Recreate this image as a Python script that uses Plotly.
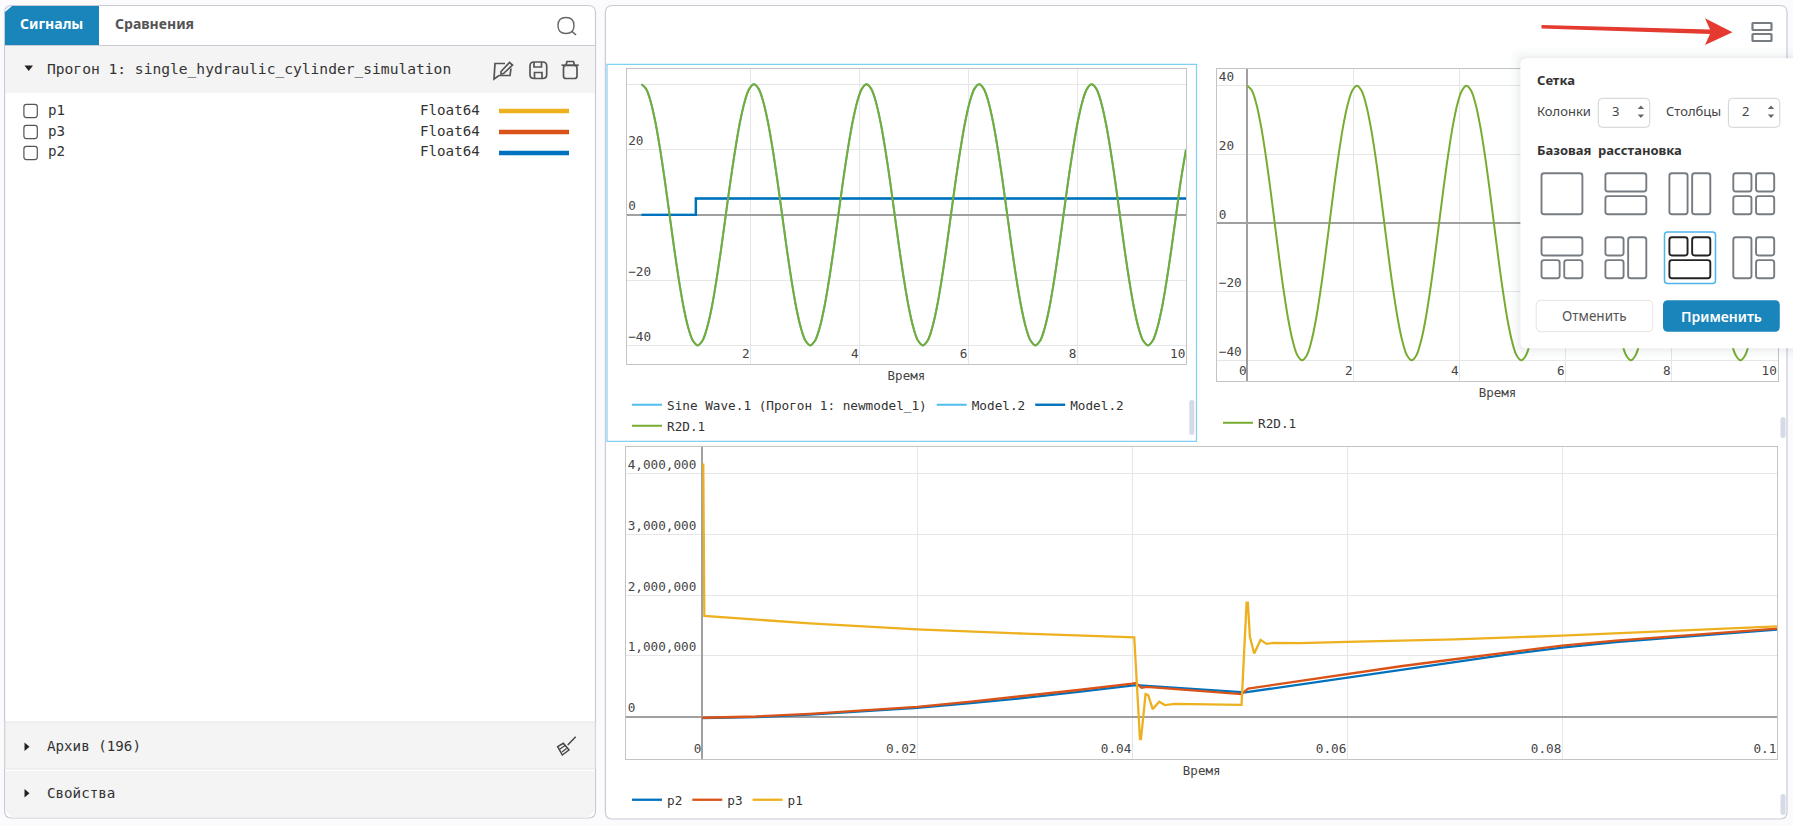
import plotly.graph_objects as go

WIDTH = 1793
HEIGHT = 826
MONO = "DejaVu Sans Mono"
SANS = "Noto Sans"

BLUE = "#0072bd"
ORANGE = "#d95319"
YELLOW = "#edb120"
LIGHT_BLUE = "#4dbeee"
GREEN = "#77ac30"
TAB_BLUE = "#1a85bb"
BORDER = "#c9cad8"
ICON = "#777c82"

# signals
sine_time = [
    0, 0.086, 0.172, 0.258, 0.345, 0.431, 0.517, 0.603, 0.689, 0.775, 0.861, 0.947,
    1.034, 1.12, 1.206, 1.292, 1.378, 1.464, 1.55, 1.636, 1.723, 1.809, 1.895, 1.981,
    2.067, 2.153, 2.239, 2.325, 2.412, 2.498, 2.584, 2.67, 2.756, 2.842, 2.928, 3.014,
    3.101, 3.187, 3.273, 3.359, 3.445, 3.531, 3.617, 3.703, 3.79, 3.876, 3.962, 4.048,
    4.134, 4.22, 4.306, 4.392, 4.479, 4.565, 4.651, 4.737, 4.823, 4.909, 4.995, 5.081,
    5.168, 5.254, 5.34, 5.426, 5.512, 5.598, 5.684, 5.77, 5.857, 5.943, 6.029, 6.115,
    6.201, 6.287, 6.373, 6.459, 6.546, 6.632, 6.718, 6.804, 6.89, 6.976, 7.062, 7.148,
    7.235, 7.321, 7.407, 7.493, 7.579, 7.665, 7.751, 7.837, 7.924, 8.01, 8.096, 8.182,
    8.268, 8.354, 8.44, 8.526, 8.613, 8.699, 8.785, 8.871, 8.957, 9.043, 9.129, 9.215,
    9.302, 9.388, 9.474, 9.56, 9.646, 9.732, 9.818, 9.904, 10,
]
sine_values = [
    40, 38.6, 34.6, 28.3, 20, 10.4, 0, -10.4, -20, -28.3, -34.6, -38.6,
    -40, -38.6, -34.6, -28.3, -20, -10.4, 0, 10.4, 20, 28.3, 34.6, 38.6,
    40, 38.6, 34.6, 28.3, 20, 10.4, 0, -10.4, -20, -28.3, -34.6, -38.6,
    -40, -38.6, -34.6, -28.3, -20, -10.4, 0, 10.4, 20, 28.3, 34.6, 38.6,
    40, 38.6, 34.6, 28.3, 20, 10.4, 0, -10.4, -20, -28.3, -34.6, -38.6,
    -40, -38.6, -34.6, -28.3, -20, -10.4, 0, 10.4, 20, 28.3, 34.6, 38.6,
    40, 38.6, 34.6, 28.3, 20, 10.4, 0, -10.4, -20, -28.3, -34.6, -38.6,
    -40, -38.6, -34.6, -28.3, -20, -10.4, 0, 10.4, 20, 28.3, 34.6, 38.6,
    40, 38.6, 34.6, 28.3, 20, 10.4, 0, -10.4, -20, -28.3, -34.6, -38.6,
    -40, -38.6, -34.6, -28.3, -20, -10.4, 0, 10.4, 20,
]
step_time = [0, 1, 1, 10]
step_values = [0, 0, 5, 5]

# pressures
p1_time = [
    0.0001, 0.0002, 0.01, 0.02, 0.03, 0.0402, 0.04073, 0.04082, 0.04104, 0.04125, 0.0415, 0.04191,
    0.04252, 0.04305, 0.04398, 0.05018, 0.05065, 0.05077, 0.05096, 0.05136, 0.05195, 0.05251,
    0.05313, 0.05561, 0.06, 0.07, 0.08, 0.09, 0.1,
]
p1_values = [
    4160000, 1656000, 1535000, 1437000, 1366000, 1306000, -366000, -366000, 0, 372000, 355000, 126000,
    246000, 192000, 213000, 197000, 1875000, 1875000, 1311000, 1040000, 1263000, 1197000,
    1213000, 1210000, 1230000, 1270000, 1333000, 1410000, 1486000,
]
p2_time = [
    0, 0.005, 0.01, 0.015, 0.02, 0.025, 0.03, 0.035, 0.04, 0.04035, 0.0505, 0.05561,
    0.06, 0.065, 0.07, 0.075, 0.08, 0.085, 0.09, 0.095, 0.1,
]
p2_values = [
    -22000, -5000, 35000, 85000, 145000, 225000, 310000, 410000, 515000, 520000, 400000, 531000,
    650000, 780000, 900000, 1025000, 1137000, 1225000, 1295000, 1365000, 1432000,
]
p3_time = [
    0, 0.005, 0.01, 0.015, 0.02, 0.025, 0.03, 0.035, 0.04, 0.04035, 0.04088, 0.04135,
    0.05018, 0.0508, 0.05127, 0.05561, 0.06, 0.065, 0.07, 0.075, 0.08, 0.085, 0.09, 0.095, 0.1,
]
p3_values = [
    -16000, 5000, 48000, 100000, 164000, 250000, 340000, 440000, 546000, 557000, 476000, 492000,
    372000, 465000, 476000, 590000, 710000, 830000, 945000, 1060000, 1170000, 1250000, 1320000, 1385000, 1448000,
]

upper_left_ticks = [2, 4, 6, 8, 10]
upper_right_ticks = [0, 2, 4, 6, 8, 10]
sine_y_ticks = [-40, -20, 0, 20, 40]
lower_x_ticks = [0, 0.02, 0.04, 0.06, 0.08, 0.1]
lower_x_labels = ["0", "0.02", "0.04", "0.06", "0.08", "0.1"]
lower_y_ticks = [0, 1000000, 2000000, 3000000, 4000000]

signal_rows = ["p1", "p3", "p2"]
signal_colors = [YELLOW, ORANGE, BLUE]


def px_x(x):
    return x / WIDTH


def px_y(y):
    return 1 - y / HEIGHT


def path_from(points, close=True):
    """Build an SVG path in paper coordinates from pixel points."""
    parts = [f"{'M' if i == 0 else 'L'} {px_x(x)} {px_y(y)}" for i, (x, y) in enumerate(points)]
    return " ".join(parts) + (" Z" if close else "")


def round_rect(x0, y0, x1, y1, r):
    """Rounded rectangle path in paper coordinates."""
    p = lambda x, y: f"{px_x(x)} {px_y(y)}"
    return (
        f"M {p(x0 + r, y0)} L {p(x1 - r, y0)} Q {p(x1, y0)} {p(x1, y0 + r)} "
        f"L {p(x1, y1 - r)} Q {p(x1, y1)} {p(x1 - r, y1)} "
        f"L {p(x0 + r, y1)} Q {p(x0, y1)} {p(x0, y1 - r)} "
        f"L {p(x0, y0 + r)} Q {p(x0, y0)} {p(x0 + r, y0)} Z"
    )


shapes = []
annotations = []


def add_box(x0, y0, x1, y1, r=0, fill="rgba(0,0,0,0)", line=None, width=1, layer="below"):
    shapes.append(dict(
        type="path", path=round_rect(x0, y0, x1, y1, r), xref="paper", yref="paper",
        fillcolor=fill, line=dict(color=line or "rgba(0,0,0,0)", width=width if line else 0), layer=layer,
    ))


def add_poly(points, fill="rgba(0,0,0,0)", line=None, width=1, close=True, layer="below"):
    shapes.append(dict(
        type="path", path=path_from(points, close), xref="paper", yref="paper",
        fillcolor=fill, line=dict(color=line or "rgba(0,0,0,0)", width=width if line else 0), layer=layer,
    ))


def add_text(x, y, text, size=14.6, color="#333333", family=MONO, weight=400, anchor="left"):
    annotations.append(dict(
        x=px_x(x), y=px_y(y), xref="paper", yref="paper", text=text, showarrow=False,
        xanchor=anchor, yanchor="middle", borderpad=0,
        font=dict(family=family, size=size, color=color, weight=weight),
    ))


def draw_left_panel():
    add_box(4.6, 5.5, 595.5, 818, r=7, fill="white", line=BORDER, width=1.2)
    # tabs
    add_poly([(5, 12), (12, 6), (99, 6), (99, 45), (5, 45)], fill=TAB_BLUE)
    add_poly([(5, 45.5), (595, 45.5)], line="#c8ccd4", width=1.2, close=False)
    add_text(51.7, 24, "Сигналы", size=14, color="white", family=SANS, weight=700, anchor="center")
    add_text(113.5, 24, "Сравнения", size=14, color="#555555", family=SANS, weight=700)
    add_box(558, 17.5, 574, 33.5, r=8, line="#666666", width=1.4)
    add_poly([(571.5, 31), (576, 35)], line="#666666", width=1.6, close=False)

    # run header
    add_poly([(5.2, 46), (595, 46), (595, 93), (5.2, 93)], fill="#f4f4f4")
    add_poly([(24.5, 65.5), (33, 65.5), (28.7, 71)], fill="#222222")
    add_text(45.8, 68.5, "Прогон 1: single_hydraulic_cylinder_simulation")
    # edit, save and delete icons
    add_poly([(505, 63.5), (495, 63.5), (494, 79), (499, 75.5), (510, 75.5), (511, 68.5)], line="#555555", width=1.7, close=False)
    add_poly([(501, 71.5), (509.5, 62.5), (512.5, 65), (503.5, 73.5), (501, 74)], line="#555555", width=1.7)
    add_box(530, 62, 546.7, 78.5, r=4, line="#555555", width=1.7)
    add_poly([(534, 62), (534, 67), (541.5, 67), (541.5, 62)], line="#555555", width=1.7, close=False)
    add_poly([(534.5, 78.5), (534.5, 72.5), (542, 72.5), (542, 78.5)], line="#555555", width=1.7, close=False)
    add_poly([(561.5, 65.2), (578.7, 65.2)], line="#555555", width=1.7, close=False)
    add_poly([(566, 65), (567, 61.5), (573.5, 61.5), (574.5, 65)], line="#555555", width=1.7, close=False)
    add_box(563.5, 65.5, 577, 78.5, r=2.5, line="#555555", width=1.7)

    # signal rows
    for row, (name, color) in enumerate(zip(signal_rows, signal_colors)):
        y = 111 + row * 21
        add_box(23.9, y - 6.6, 37.3, y + 6.6, r=2.5, fill="white", line="#555555", width=1.2)
        add_text(47.4, y - 1.5, name, size=14.2)
        add_text(418.6, y - 1.5, "Float64", size=14.2)
        add_box(499, y - 2.3, 569, y + 2.3, fill=color)

    # collapsed sections
    add_poly([(5.2, 722), (595, 722), (595, 769), (5.2, 769)], fill="#f4f4f4", line="#e6e6e6", width=1)
    add_poly([(5.2, 771), (595, 771), (595, 811), (588, 817.5), (12, 817.5), (5.2, 811)], fill="#f4f4f4")
    add_poly([(24.5, 742.5), (29.5, 746.8), (24.5, 751)], fill="#222222")
    add_poly([(24.5, 789), (29.5, 793.3), (24.5, 797.5)], fill="#222222")
    add_text(45.8, 745.5, "Архив (196)", size=14.2)
    add_text(45.8, 792.5, "Свойства", size=14.2)
    # brush icon
    add_poly([(557.7, 746.7), (563.3, 743.3), (569, 750), (562.3, 755)], line="#444444", width=1.5)
    add_poly([(560, 749), (565, 745.5)], line="#444444", width=1.2, close=False)
    add_poly([(562, 752), (566.5, 748.5)], line="#444444", width=1.2, close=False)
    add_poly([(567.7, 745), (575.7, 736.7)], line="#444444", width=1.4, close=False)


def draw_right_panel():
    add_box(605.4, 5.5, 1787, 819, r=7, fill="white", line=BORDER, width=1.2)
    add_poly([(607, 64.3), (1196.5, 64.3), (1196.5, 441.3), (607, 441.3)], line="#7fd0f2", width=1.2)
    add_box(1189.3, 400, 1194.3, 435, r=2.5, fill="#d6dae6")
    add_box(1780.5, 417, 1785.5, 438, r=2.5, fill="#d6dae6")
    add_box(1780.5, 794, 1785.5, 815, r=2.5, fill="#d6dae6")

    # red arrow and the layout button
    add_poly([(1541.5, 25), (1710, 29.5), (1705, 18.3), (1732.5, 32.3), (1705, 45), (1710, 34), (1541.5, 28.5)],
             fill="#e53a2f", layer="above")
    add_box(1752.5, 23, 1771.5, 30, r=0.5, line=ICON, width=2.2, layer="above")
    add_box(1752.5, 34, 1771.5, 41, r=0.5, line=ICON, width=2.2, layer="above")


def draw_popup():
    for grow, alpha in [(10, 0.012), (7, 0.014), (4, 0.018), (2, 0.022)]:
        add_box(1520 - grow, 58 - grow, 1800, 348.5 + grow, r=8, fill=f"rgba(40,50,70,{alpha})", layer="above")
    add_box(1520.4, 58.3, 1800, 348.3, r=7, fill="white", layer="above")

    add_text(1536.2, 79.7, "Сетка", size=13, color="#333333", family=SANS, weight=700)
    add_text(1536.2, 110.7, "Колонки", size=13, color="#444444", family=SANS)
    add_text(1665, 110.7, "Столбцы", size=13, color="#444444", family=SANS)
    add_text(1536.2, 150, "Базовая  расстановка", size=13, color="#333333", family=SANS, weight=700)

    for x0, value in [(1598.3, "3"), (1728.4, "2")]:
        add_box(x0, 98.3, x0 + 51.4, 127.3, r=4, fill="white", line="#cfd2d6", width=1, layer="above")
        add_text(x0 + 12.6, 110.7, value, size=13, color="#444444", family=SANS)
        tip = x0 + 42.6
        add_poly([(tip - 3.2, 109), (tip + 3.2, 109), (tip, 105.5)], fill="#666666", layer="above")
        add_poly([(tip - 3.2, 114.5), (tip + 3.2, 114.5), (tip, 118)], fill="#666666", layer="above")

    cols = [1541.5, 1605.4, 1669.4, 1733.3]
    rows = [173.3, 237.3]
    w, h = 40.9, 41
    gap = 4.6
    half_w = (w - gap) / 2
    half_h = (h - gap) / 2
    # rectangles of each preset as (left, top, width, height) in fractions of halves
    presets = [
        [(0, 0, 2, 2)],
        [(0, 0, 2, 1), (0, 1, 2, 1)],
        [(0, 0, 1, 2), (1, 0, 1, 2)],
        [(0, 0, 1, 1), (1, 0, 1, 1), (0, 1, 1, 1), (1, 1, 1, 1)],
        [(0, 0, 2, 1), (0, 1, 1, 1), (1, 1, 1, 1)],
        [(0, 0, 1, 1), (0, 1, 1, 1), (1, 0, 1, 2)],
        [(0, 0, 1, 1), (1, 0, 1, 1), (0, 1, 2, 1)],
        [(0, 0, 1, 2), (1, 0, 1, 1), (1, 1, 1, 1)],
    ]
    add_box(1664.5, 232, 1715.5, 283.5, r=3, fill="white", line="#4db5ea", width=1.5, layer="above")
    for i, cells in enumerate(presets):
        ox, oy = cols[i % 4], rows[i // 4]
        color = "#222222" if i == 6 else ICON
        for left, top, cw, ch in cells:
            x0 = ox + left * (half_w + gap)
            y0 = oy + top * (half_h + gap)
            x1 = x0 + (w if cw == 2 else half_w)
            y1 = y0 + (h if ch == 2 else half_h)
            add_box(x0, y0, x1, y1, r=2.5, line=color, width=1.9, layer="above")

    add_box(1536.2, 300.3, 1652.7, 331.7, r=5, fill="white", line="#e4e4e4", width=1, layer="above")
    add_text(1594.5, 316, "Отменить", size=13.5, color="#555555", family=SANS, anchor="center")
    add_box(1663, 300.3, 1779.8, 331.7, r=5, fill=TAB_BLUE, layer="above")
    add_text(1721.4, 316, "Применить", size=14, color="white", family=SANS, weight=600, anchor="center")


def axis_style(x0, x1, anchor, tickvals, axis_range, **extra):
    style = dict(
        domain=[x0, x1], anchor=anchor, range=axis_range, tickmode="array", tickvals=tickvals,
        showline=True, mirror=True, linecolor="#c4c4c4", linewidth=1.4,
        showgrid=True, gridcolor="#e6e6e6", gridwidth=1,
        zeroline=True, zerolinecolor="#a0a0a0", zerolinewidth=2.2,
        ticks="", tickfont=dict(family=MONO, size=12.7, color="#444444"),
    )
    style.update(extra)
    return style


def legend_at(x, y):
    return dict(
        orientation="h", x=px_x(x), y=px_y(y), xanchor="left", yanchor="top",
        bgcolor="rgba(0,0,0,0)", font=dict(family=MONO, size=12.7, color="#333333"),
        itemclick=False, itemdoubleclick=False,
    )


def line_trace(x, y, name, color, width, xaxis, yaxis, legend, shape="linear"):
    return go.Scatter(
        x=x, y=y, name=name, mode="lines", xaxis=xaxis, yaxis=yaxis, legend=legend,
        line=dict(color=color, width=width, shape=shape), showlegend=True,
    )


def axis_title(standoff=11):
    return dict(text="Время", font=dict(family=MONO, size=12.5, color="#444444"), standoff=standoff)


draw_left_panel()
draw_right_panel()
draw_popup()

fig = go.Figure()
# upper left chart
fig.add_trace(line_trace(sine_time, sine_values, "Sine Wave.1 (Прогон 1: newmodel_1)", LIGHT_BLUE, 2, "x", "y", "legend", "spline"))
fig.add_trace(line_trace(step_time, step_values, "Model.2", LIGHT_BLUE, 2, "x", "y", "legend"))
fig.add_trace(line_trace(step_time, step_values, "Model.2", BLUE, 2.4, "x", "y", "legend"))
fig.add_trace(line_trace(sine_time, sine_values, "R2D.1", GREEN, 2, "x", "y", "legend2", "spline"))
# upper right chart
fig.add_trace(line_trace(sine_time, sine_values, "R2D.1", GREEN, 2, "x2", "y2", "legend3", "spline"))
# lower chart
fig.add_trace(line_trace(p2_time, p2_values, "p2", BLUE, 2.3, "x3", "y3", "legend4"))
fig.add_trace(line_trace(p3_time, p3_values, "p3", ORANGE, 2.3, "x3", "y3", "legend4"))
fig.add_trace(line_trace(p1_time, p1_values, "p1", YELLOW, 2.3, "x3", "y3", "legend4"))

fig.update_layout(
    width=WIDTH,
    height=HEIGHT,
    margin=dict(l=0, r=0, t=0, b=0),
    paper_bgcolor="#fbfbfd",
    plot_bgcolor="rgba(0,0,0,0)",
    autosize=False,
    hovermode=False,
    shapes=shapes,
    annotations=annotations,
    legend=legend_at(627, 390),
    legend2=legend_at(627, 411),
    legend3=legend_at(1218, 408),
    legend4=legend_at(627, 785),
    xaxis=axis_style(px_x(626.8), px_x(1186), "y", upper_left_ticks, [-0.268, 10],
                     zeroline=False, ticklabelposition="inside left", title=axis_title()),
    yaxis=axis_style(px_y(364), px_y(69.3), "x", sine_y_ticks, [-45.7, 44.6], ticklabelposition="inside top"),
    xaxis2=axis_style(px_x(1217.4), px_x(1777.5), "y2", upper_right_ticks, [-0.564, 10],
                      ticklabelposition="inside left", title=axis_title()),
    yaxis2=axis_style(px_y(381.3), px_y(69.3), "x2", sine_y_ticks, [-46.1, 44.8], ticklabelposition="inside top"),
    xaxis3=axis_style(px_x(626.3), px_x(1777), "y3", lower_x_ticks, [-0.00706, 0.1],
                      ticktext=lower_x_labels, ticklabelposition="inside left", title=axis_title()),
    yaxis3=axis_style(px_y(759.3), px_y(447.3), "x3", lower_y_ticks, [-698000, 4426000],
                      tickformat=",d", ticklabelposition="inside top"),
)

fig.write_html("out.html", config=dict(displayModeBar=False), post_script="document.body.style.margin='0';")
